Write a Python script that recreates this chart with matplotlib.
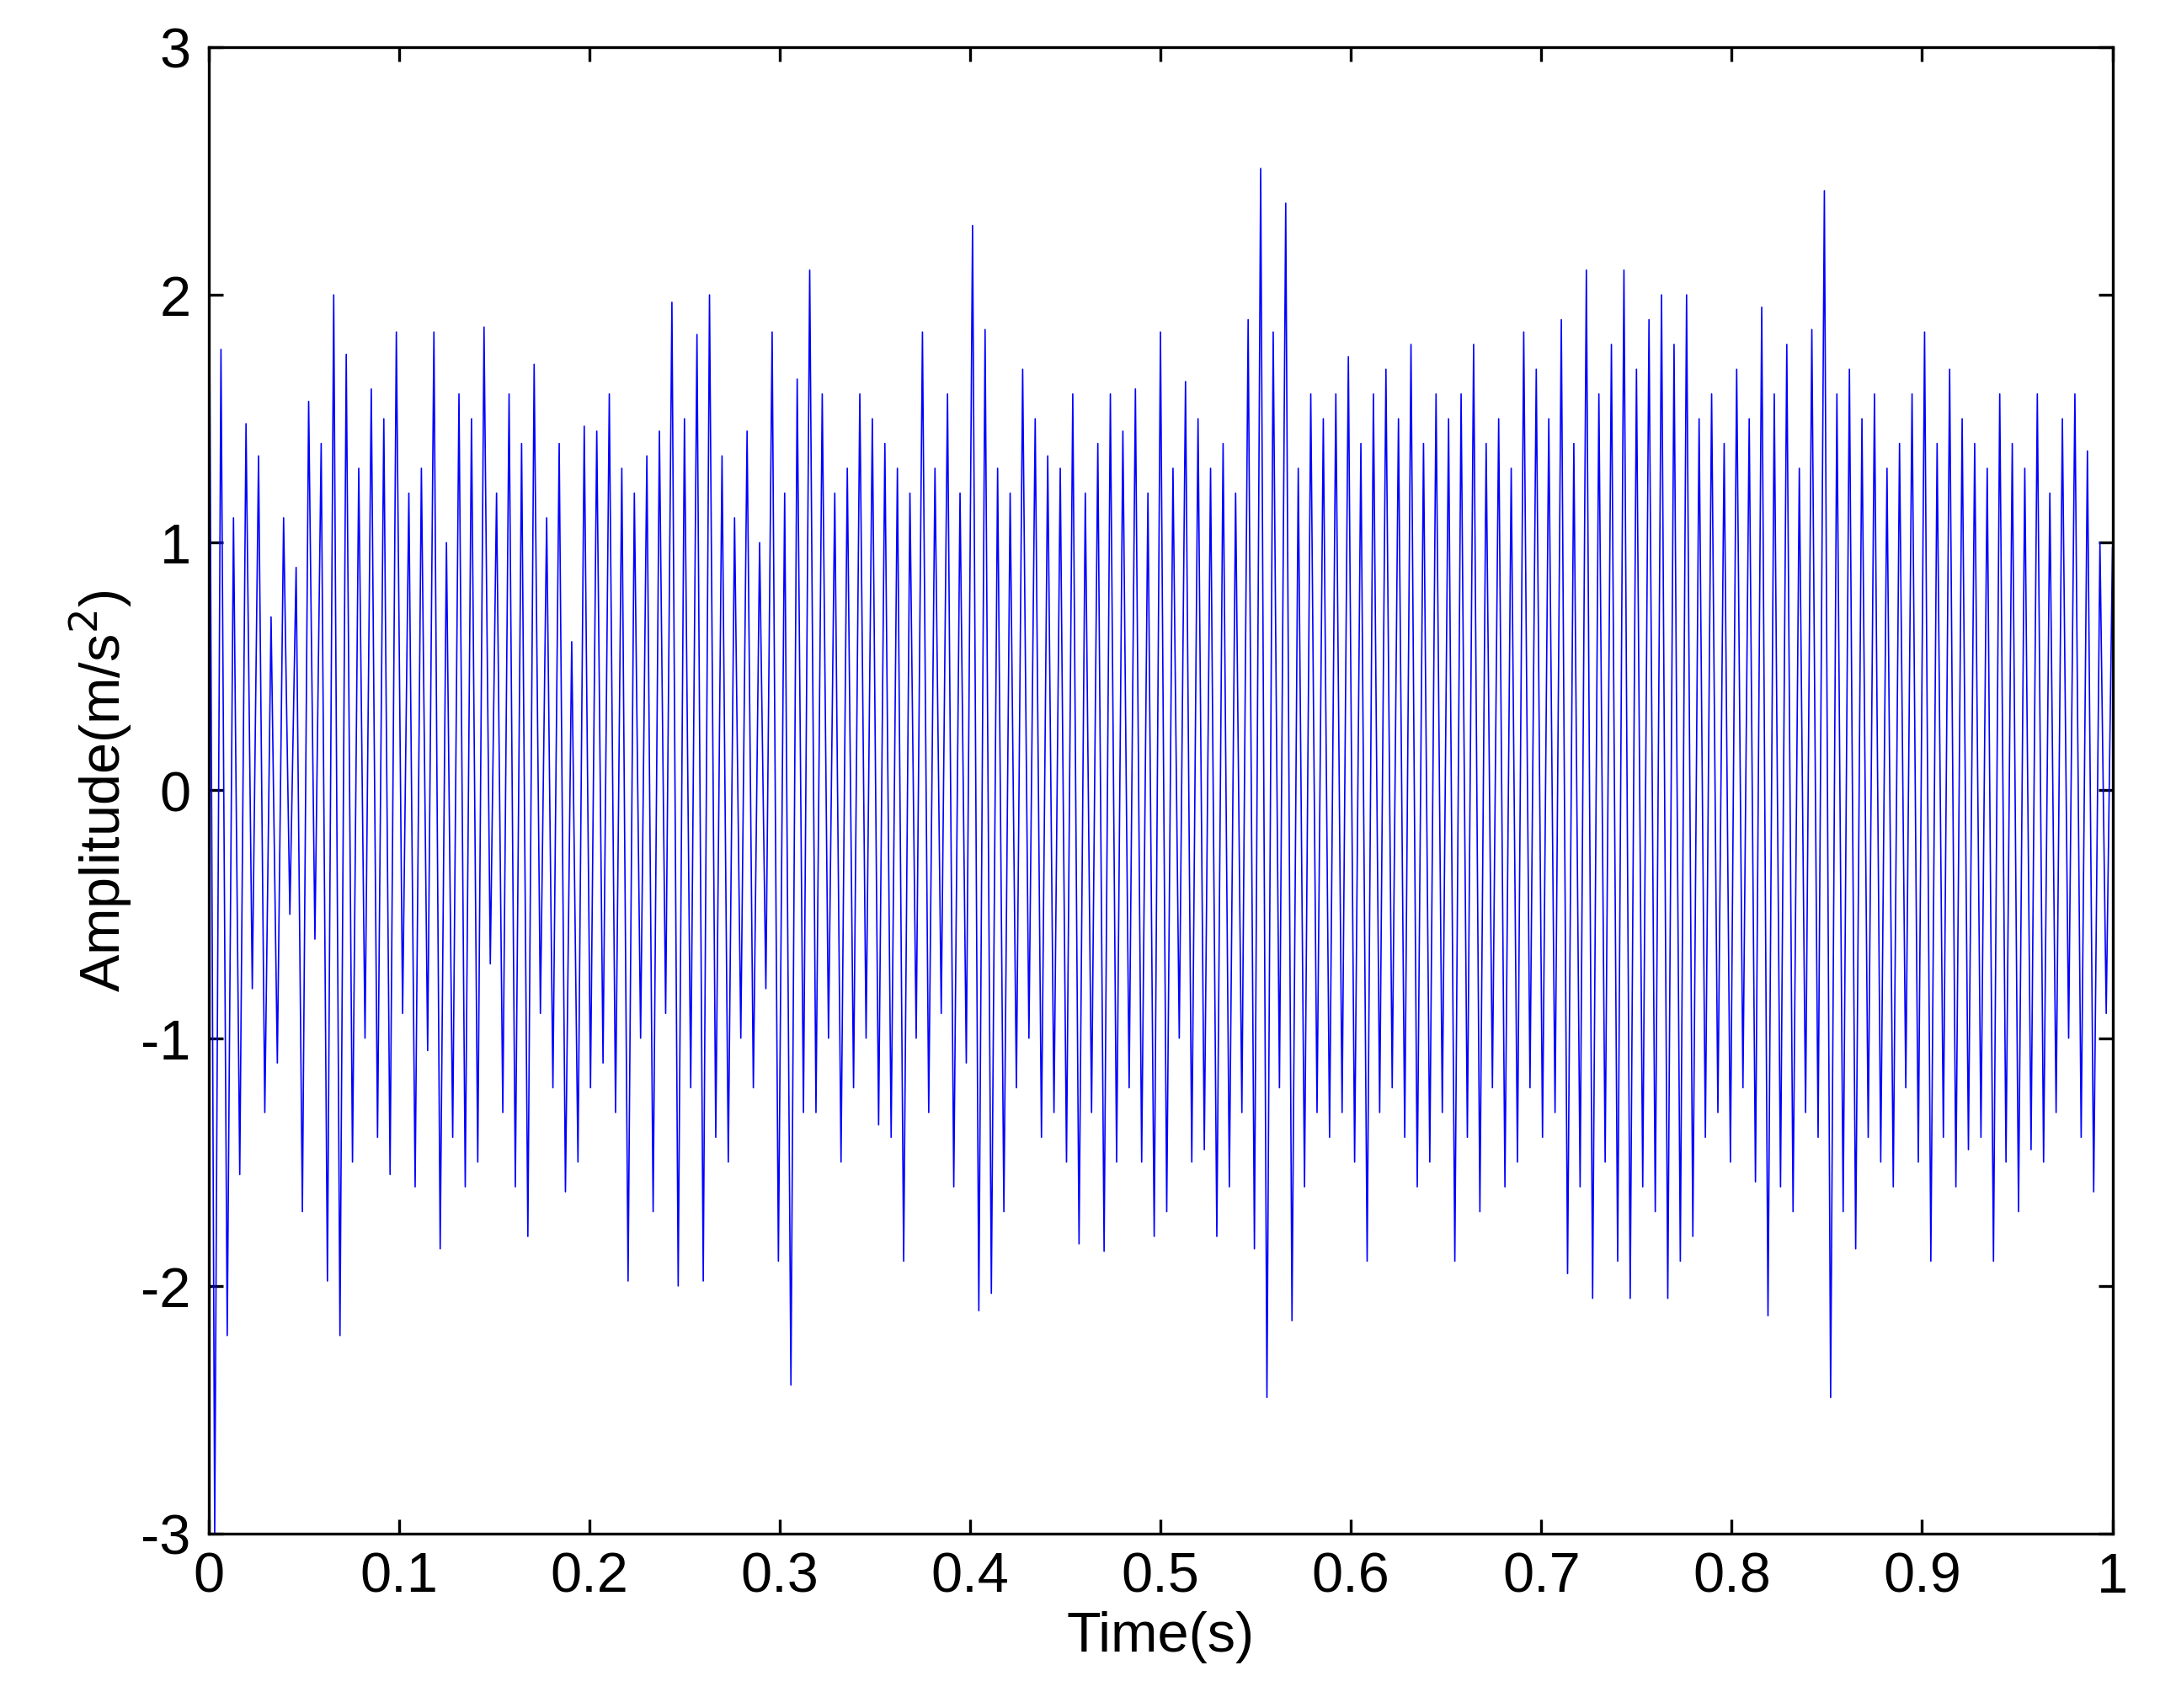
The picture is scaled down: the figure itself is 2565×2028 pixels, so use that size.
import numpy as np
import matplotlib.pyplot as plt

plt.rcParams['font.family'] = ['Liberation Sans', 'DejaVu Sans']
plt.rcParams['axes.unicode_minus'] = False

# amplitude samples (m/s^2), evenly spaced over 0..1 s
amp = [
    3.0, -3.0, 1.78, -2.2, 1.1, -1.55, 1.48, -0.8, 1.35, -1.3, 0.7, -1.1, 1.1, -0.5, 0.9, -1.7, 1.57, -0.6, 1.4, -1.98,
    2.0, -2.2, 1.76, -1.5, 1.3, -1.0, 1.62, -1.4, 1.5, -1.55, 1.85, -0.9, 1.2, -1.6, 1.3, -1.05, 1.85, -1.85, 1.0, -1.4,
    1.6, -1.6, 1.5, -1.5, 1.87, -0.7, 1.2, -1.3, 1.6, -1.6, 1.4, -1.8, 1.72, -0.9, 1.1, -1.2, 1.4, -1.62, 0.6, -1.5,
    1.47, -1.2, 1.45, -1.1, 1.6, -1.3, 1.3, -1.98, 1.2, -1.0, 1.35, -1.7, 1.45, -0.9, 1.97, -2.0, 1.5, -1.2, 1.84, -1.98,
    2.0, -1.4, 1.35, -1.5, 1.1, -1.0, 1.45, -1.2, 1.0, -0.8, 1.85, -1.9, 1.2, -2.4, 1.66, -1.3, 2.1, -1.3, 1.6, -1.0,
    1.2, -1.5, 1.3, -1.2, 1.6, -1.0, 1.5, -1.35, 1.4, -1.4, 1.3, -1.9, 1.2, -1.0, 1.85, -1.3, 1.3, -0.9, 1.6, -1.6,
    1.2, -1.1, 2.28, -2.1, 1.86, -2.03, 1.3, -1.7, 1.2, -1.2, 1.7, -1.0, 1.5, -1.4, 1.35, -1.3, 1.3, -1.5,
    1.6, -1.83, 1.2, -1.3, 1.4, -1.86, 1.6, -1.5, 1.45, -1.2, 1.62, -1.5, 1.2, -1.8, 1.85, -1.7, 1.3, -1.0, 1.65, -1.5,
    1.5, -1.45, 1.3, -1.8, 1.4, -1.6, 1.2, -1.3, 1.9, -1.85, 2.51, -2.45, 1.85, -1.2, 2.37, -2.14, 1.3, -1.6, 1.6, -1.3,
    1.5, -1.4, 1.6, -1.3, 1.75, -1.5, 1.4, -1.9, 1.6, -1.3, 1.7, -1.2, 1.5, -1.4, 1.8, -1.6, 1.4, -1.5, 1.6, -1.3,
    1.5, -1.9, 1.6, -1.4, 1.8, -1.7, 1.4, -1.2, 1.5, -1.6, 1.3, -1.5, 1.85, -1.2, 1.7, -1.4, 1.5, -1.3, 1.9, -1.95,
    1.4, -1.6, 2.1, -2.05, 1.6, -1.5, 1.8, -1.9, 2.1, -2.05, 1.7, -1.6, 1.9, -1.7, 2.0, -2.05, 1.8, -1.9, 2.0, -1.8,
    1.5, -1.4, 1.6, -1.3, 1.4, -1.5, 1.7, -1.2, 1.5, -1.58, 1.95, -2.12, 1.6, -1.6, 1.8, -1.7, 1.3, -1.3, 1.86, -1.4,
    2.42, -2.45, 1.6, -1.7, 1.7, -1.85, 1.5, -1.4, 1.6, -1.5, 1.3, -1.6, 1.4, -1.2, 1.6, -1.5, 1.85, -1.9, 1.4, -1.4,
    1.7, -1.6, 1.5, -1.45, 1.4, -1.4, 1.3, -1.9, 1.6, -1.5, 1.4, -1.7, 1.3, -1.45, 1.6, -1.5, 1.2, -1.3, 1.5, -1.0,
    1.6, -1.4, 1.37, -1.62, 1.0, -0.9, 0.98,
]
amp = np.array(amp)
t = np.linspace(0, 1, len(amp))

fig = plt.figure(figsize=(8.55, 6.763), dpi=300)
ax = fig.add_axes([0.0965, 0.102, 0.8815, 0.87])
ax.plot(t, amp, color='blue', lw=0.4)
ax.set_xlim(0, 1)
ax.set_ylim(-3, 3)
ax.set_xticks(np.arange(0, 1.01, 0.1))
ax.set_xticklabels(['0', '0.1', '0.2', '0.3', '0.4', '0.5', '0.6', '0.7', '0.8', '0.9', '1'])
ax.set_yticks(range(-3, 4))
ax.tick_params(direction='in', labelsize=16, top=True, right=True, length=4, pad=5)
ax.set_xlabel('Time(s)', fontsize=16, labelpad=2)
ax.set_ylabel('Amplitude(m/s$^2$)', fontsize=16, labelpad=2)
fig.savefig('out.png')
